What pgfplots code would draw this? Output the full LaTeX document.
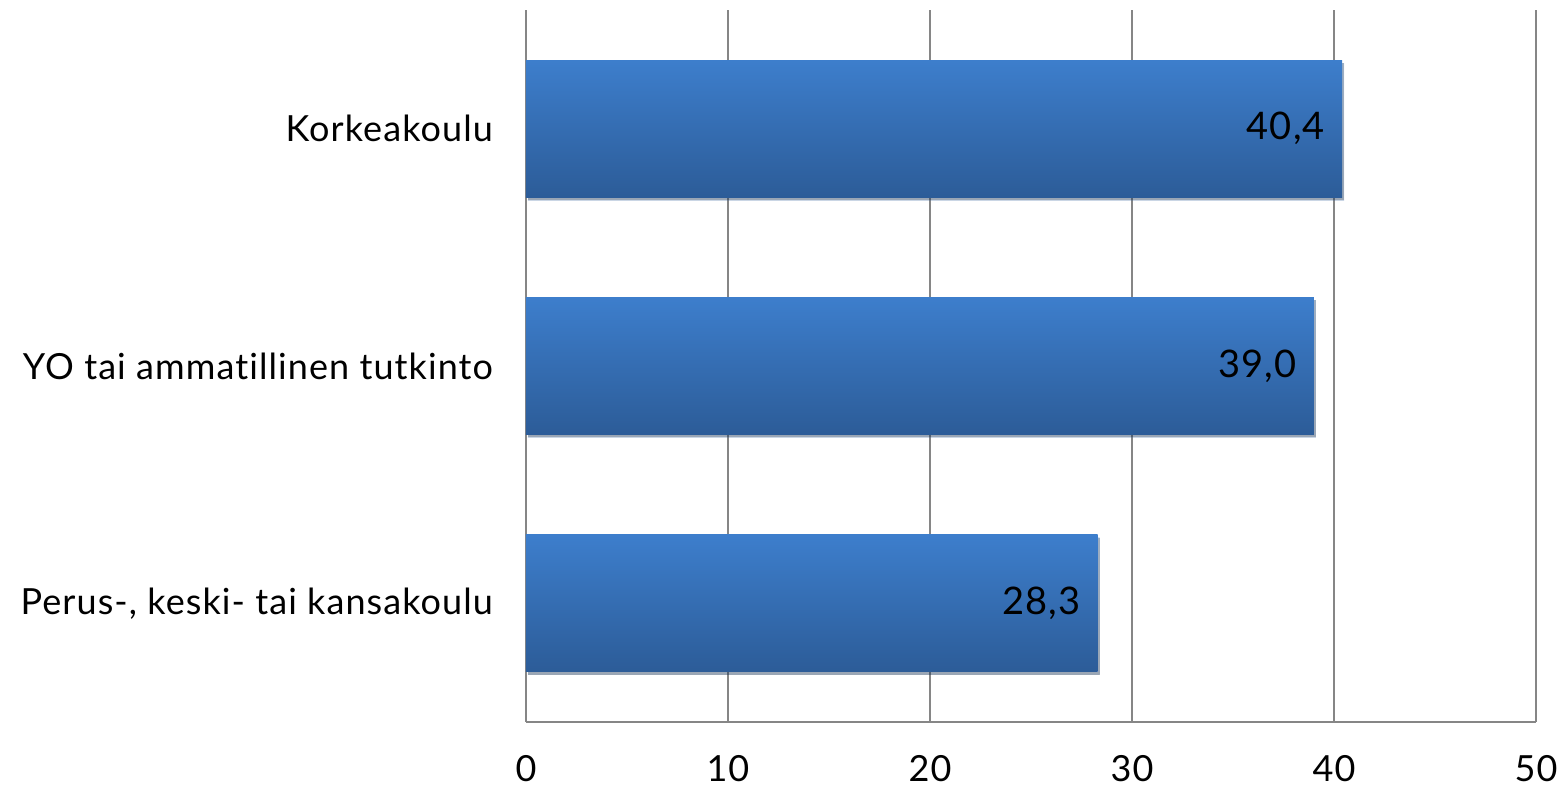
\documentclass[border=0pt]{standalone}
\usepackage{pgfplots}
\pgfplotsset{compat=1.18}
\usepackage{fontspec}
\setmainfont{Lato}[LetterSpace=3, Ligatures={NoCommon}]
\usetikzlibrary{shadows}
\definecolor{gridgray}{RGB}{134,134,134}
\definecolor{bartop}{RGB}{61,126,204}
\definecolor{barbot}{RGB}{44,92,152}

\begin{document}
\begin{tikzpicture}
\path[use as bounding box] (-263pt,-32pt) rectangle (518pt,361pt);
\begin{axis}[
  at={(0,0)}, anchor=south west,
  scale only axis,
  width=505pt, height=356pt,
  xbar, bar width=68.5pt, bar shift=0pt,
  xmin=0, xmax=50, ymin=-0.5, ymax=2.5,
  xtick={0,10,20,30,40,50},
  ytick={0,1,2},
  yticklabels={{Perus-, keski- tai kansakoulu},{YO tai ammatillinen tutkinto},{Korkeakoulu}},
  axis x line*=bottom, axis y line*=left,
  axis line style={gridgray, line width=1pt},
  xmajorgrids, grid style={gridgray, line width=0.65pt},
  major tick length=0pt,
  tick label style={font=\fontsize{18}{20}\selectfont},
  /pgf/number format/assume math mode=true,
  xticklabel style={yshift=-13pt},
  yticklabel style={xshift=-13pt},
  nodes near coords,
  nodes near coords style={text=black, font=\fontsize{19}{21}\selectfont, anchor=east, xshift=-5pt,
    /pgf/number format/.cd, fixed, fixed zerofill, precision=1, use comma},
  every axis plot/.append style={draw=none, top color=bartop, bottom color=barbot,
    drop shadow={shadow xshift=1pt, shadow yshift=-1.5pt, opacity=0.25, fill=black}},
]
\addplot coordinates {(28.3,0)};
\addplot coordinates {(39.0,1)};
\addplot coordinates {(40.4,2)};
\end{axis}
\end{tikzpicture}
\end{document}
